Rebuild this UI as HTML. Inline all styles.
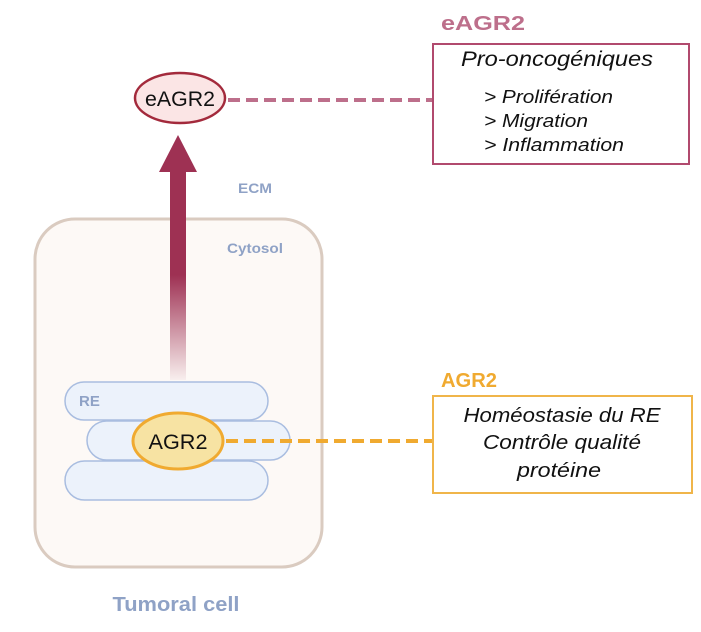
<!DOCTYPE html>
<html><head><meta charset="utf-8"><style>
html,body{margin:0;padding:0;background:#fff;}
svg{display:block;font-family:"Liberation Sans",sans-serif;}
</style></head><body>
<svg width="701" height="632" viewBox="0 0 701 632" xmlns="http://www.w3.org/2000/svg">
<defs>
<linearGradient id="g" x1="0" y1="0" x2="0" y2="1">
<stop offset="0" stop-color="#9e3153"/>
<stop offset="0.5" stop-color="#9e3153"/>
<stop offset="1" stop-color="#9e3153" stop-opacity="0.05"/>
</linearGradient>
</defs>
<rect x="35" y="219" width="287" height="348" rx="40" fill="#fdf9f6" stroke="#dacbc0" stroke-width="3"/>
<text x="238" y="193" font-size="14" font-weight="bold" fill="#8fa2c6" textLength="34" lengthAdjust="spacingAndGlyphs">ECM</text>
<text x="227" y="253" font-size="14" font-weight="bold" fill="#8fa2c6" textLength="56" lengthAdjust="spacingAndGlyphs">Cytosol</text>
<rect x="170" y="170" width="16" height="210" fill="url(#g)"/>
<polygon points="178,135 197,172 159,172" fill="#9e3153"/>
<rect x="65" y="382" width="203" height="38" rx="19" fill="#ecf2fb" stroke="#a9bde0" stroke-width="1.5"/>
<rect x="87" y="421" width="203" height="39" rx="19.5" fill="#ecf2fb" stroke="#a9bde0" stroke-width="1.5"/>
<rect x="65" y="461" width="203" height="39" rx="19.5" fill="#ecf2fb" stroke="#a9bde0" stroke-width="1.5"/>
<text x="79" y="406" font-size="15" font-weight="bold" fill="#8fa2c6">RE</text>
<ellipse cx="178" cy="441" rx="45" ry="28" fill="#f7e3a3" stroke="#f0aa30" stroke-width="3"/>
<text x="178" y="449" font-size="21" text-anchor="middle" fill="#111" textLength="59" lengthAdjust="spacingAndGlyphs">AGR2</text>
<ellipse cx="180" cy="98" rx="45" ry="25" fill="#fbe5e5" stroke="#a32a3c" stroke-width="2.5"/>
<text x="180" y="106" font-size="21" text-anchor="middle" fill="#111" textLength="70" lengthAdjust="spacingAndGlyphs">eAGR2</text>
<line x1="228" y1="100" x2="433" y2="100" stroke="#bd6f8b" stroke-width="4" stroke-dasharray="12,6"/>
<line x1="226" y1="441" x2="433" y2="441" stroke="#f0aa30" stroke-width="4" stroke-dasharray="12,6"/>
<text x="441" y="30" font-size="20" font-weight="bold" fill="#bd6f8b" textLength="84" lengthAdjust="spacingAndGlyphs">eAGR2</text>
<rect x="433" y="44" width="256" height="120" fill="#fff" stroke="#b14a6e" stroke-width="2"/>
<g font-style="italic" fill="#111">
<text x="461" y="66" font-size="21" textLength="192" lengthAdjust="spacingAndGlyphs">Pro-oncogéniques</text>
<text x="484" y="103" font-size="18" textLength="129" lengthAdjust="spacingAndGlyphs">&gt; Prolifération</text>
<text x="484" y="127" font-size="18" textLength="104" lengthAdjust="spacingAndGlyphs">&gt; Migration</text>
<text x="484" y="151" font-size="18" textLength="140" lengthAdjust="spacingAndGlyphs">&gt; Inflammation</text>
</g>
<text x="441" y="387" font-size="20" font-weight="bold" fill="#f0aa30" textLength="56" lengthAdjust="spacingAndGlyphs">AGR2</text>
<rect x="433" y="396" width="259" height="97" fill="#fff" stroke="#f0b54a" stroke-width="2"/>
<g font-style="italic" fill="#111" font-size="20" text-anchor="middle">
<text x="562" y="422" textLength="197" lengthAdjust="spacingAndGlyphs">Homéostasie du RE</text>
<text x="562" y="449" textLength="158" lengthAdjust="spacingAndGlyphs">Contrôle qualité</text>
<text x="559" y="477" textLength="84" lengthAdjust="spacingAndGlyphs">protéine</text>
</g>
<text x="176" y="611" font-size="20" font-weight="bold" fill="#8fa2c6" text-anchor="middle" textLength="127" lengthAdjust="spacingAndGlyphs">Tumoral cell</text>
</svg>
</body></html>
